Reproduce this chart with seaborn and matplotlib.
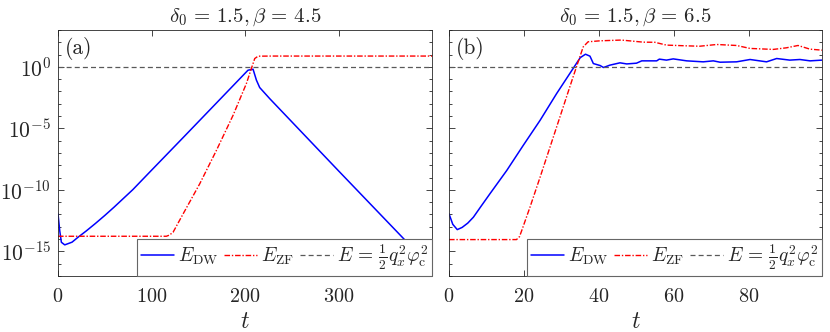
import numpy as np
import pandas as pd
import matplotlib
matplotlib.use('Agg')
import matplotlib.pyplot as plt
import matplotlib.ticker as mticker
import seaborn as sns

sns.set_style('ticks')
plt.rcParams['font.family'] = 'serif'
plt.rcParams['font.serif'] = ['cmr10', 'DejaVu Serif']
plt.rcParams['mathtext.fontset'] = 'cm'
plt.rcParams['axes.formatter.use_mathtext'] = True
plt.rcParams['axes.unicode_minus'] = False

# panel (a): delta0=1.5, beta=4.5  (values are log10 of energy)
t_dw_a = [0, 1.8, 3.6, 7.2, 15, 21.4, 30, 40, 50, 60, 80, 98, 133.8, 169.4, 203.2, 208.6, 212.2, 215.7, 226.4, 300, 372.6, 400]
log_dw_a = [-11.95, -13.3, -14.26, -14.47, -14.25, -13.85, -13.35, -12.73, -12.08, -11.4, -9.98, -8.56, -5.75, -2.94, -0.27, -0.19, -1.08, -1.68, -2.58, -8.45, -14.2, -16.4]
t_zf_a = [0, 115.9, 119, 123, 133.8, 151.6, 169.4, 187.2, 201.5, 206.8, 210.4, 214, 230, 400]
log_zf_a = [-13.77, -13.77, -13.68, -13.45, -11.95, -9.5, -6.79, -3.94, -1.35, -0.13, 0.68, 0.87, 0.88, 0.88]

# panel (b): delta0=1.5, beta=6.5
t_dw_b = [0, 1, 2.2, 3.5, 5, 6.5, 8.5, 10.9, 15.4, 19.8, 24.3, 28.7, 33.1, 35, 36.4, 37.6, 38.5, 40.3, 41.2, 42.9, 45.6, 47.4,
          50, 51.4, 55.4, 56.1, 58, 59.8, 63.4, 67.8, 70.5, 72.3, 76.7, 80.3, 84.7, 87.4, 90.9, 93.6, 96.3, 99.5]
log_dw_b = [-11.95, -12.8, -13.23, -13.05, -12.7, -12.22, -11.35, -10.32, -8.42, -6.38, -4.34, -2.17, -0.13, 0.75, 1.03, 0.87, 0.27, 0.11, -0.05, 0.14, 0.33, 0.24,
            0.3, 0.49, 0.49, 0.63, 0.55, 0.65, 0.49, 0.41, 0.49, 0.38, 0.41, 0.6, 0.41, 0.68, 0.55, 0.6, 0.49, 0.55]
t_zf_b = [0, 18, 18.8, 19.4, 21.6, 24.3, 28.7, 33.1, 35.8, 37.1, 40.3, 46, 51.8, 54.9, 58, 63.4, 66.9, 71.4, 76.7, 80.3, 86.5, 90, 93.1, 96.3, 99.5]
log_zf_b = [-14.04, -14.04, -13.8, -13.3, -11.4, -8.96, -4.89, -0.81, 1.63, 2.04, 2.12, 2.18, 2.01, 2.0, 1.77, 1.71, 1.68, 1.82, 1.74, 1.5, 1.42, 1.55, 1.74, 1.44, 1.36]

E_crit = 0.9
titles = [r'$\delta_0\,=\,1.5,\beta\,=\,4.5$', r'$\delta_0\,=\,1.5,\beta\,=\,6.5$']
panel_tags = ['(a)', '(b)']
xlims = [(0, 400), (0, 99.5)]
xticks = [[0, 100, 200, 300], [0, 20, 40, 60, 80]]

fig = plt.figure(figsize=(8.3, 3.32), dpi=100)
axes = [fig.add_axes([0.0699, 0.1687, 0.4506, 0.741]),
        fig.add_axes([0.541, 0.1687, 0.4494, 0.741])]

panels = [(t_dw_a, log_dw_a, t_zf_a, log_zf_a), (t_dw_b, log_dw_b, t_zf_b, log_zf_b)]

for i, (ax, (tdw, ldw, tzf, lzf)) in enumerate(zip(axes, panels)):
    dw = pd.DataFrame({'t': tdw, 'E': 10.0 ** np.array(ldw)})
    zf = pd.DataFrame({'t': tzf, 'E': 10.0 ** np.array(lzf)})
    sns.lineplot(data=dw, x='t', y='E', ax=ax, color='#0000ff', lw=1.1, label=r'$E_\mathrm{DW}$')
    sns.lineplot(data=zf, x='t', y='E', ax=ax, color='#ff0000', lw=1.0,
                 linestyle=(0, (4, 1.3, 1, 1.3)), label=r'$E_\mathrm{ZF}$')
    ax.axhline(E_crit, color='0.35', lw=0.9, ls=(0, (4, 2.5)),
               label=r'$E\,=\,\frac{1}{2}q_x^2\varphi_\mathrm{c}^2$')
    ax.set_yscale('log')
    ax.set_ylim(1e-17, 1e3)
    ax.set_xlim(*xlims[i])
    ax.set_xticks(xticks[i])
    ax.yaxis.set_major_locator(mticker.FixedLocator([1e-15, 1e-10, 1e-5, 1e0]))
    ax.yaxis.set_minor_locator(mticker.FixedLocator([10.0 ** k for k in range(-17, 4)]))
    ax.yaxis.set_minor_formatter(mticker.NullFormatter())
    ax.tick_params(which='both', direction='in', top=True, right=True)
    ax.tick_params(axis='x', labelsize=14.5, pad=9)
    ax.tick_params(axis='y', labelsize=15.5, pad=5)
    ax.tick_params(which='major', length=4, width=0.6)
    ax.tick_params(which='minor', length=2.5, width=0.6)
    for s in ax.spines.values():
        s.set_linewidth(0.6)
        s.set_color('0.15')
    if i == 1:
        ax.set_yticklabels([])
    ax.set_ylabel('')
    ax.set_xlabel(r'$t$', fontsize=17, labelpad=3)
    ax.set_title(titles[i], fontsize=15, pad=6)
    ax.text(0.019, 0.97, panel_tags[i], transform=ax.transAxes, ha='left', va='top', fontsize=15.5)
    leg = ax.legend(loc='lower right', ncol=3, fontsize=14, frameon=True, fancybox=False,
                    framealpha=1, edgecolor='0.4', borderaxespad=0, handlelength=1.7,
                    handletextpad=0.2, columnspacing=0.3, borderpad=0.2)
    leg.get_frame().set_linewidth(0.8)

fig.savefig('out.png', dpi=100)
